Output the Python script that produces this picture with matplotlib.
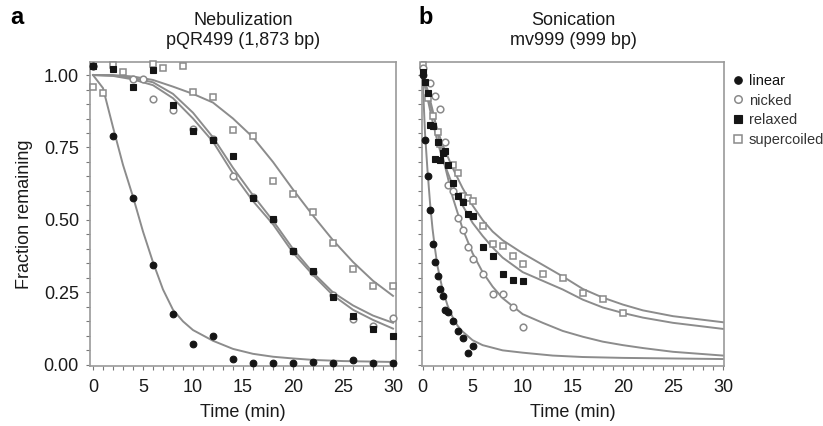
import matplotlib
matplotlib.use("Agg")
import matplotlib.pyplot as plt
from matplotlib.lines import Line2D

plt.rcParams['font.family'] = ['Liberation Sans', 'DejaVu Sans']

# ---------------- Panel a: Nebulization (pQR499) ----------------
a_lin_t = [0, 2, 4, 6, 8, 10, 12, 14, 16, 18, 20, 22, 24, 26, 28, 30]
a_lin_y = [1.03, 0.79, 0.574, 0.344, 0.175, 0.072, 0.10, 0.02, 0.008, 0.008, 0.008, 0.01, 0.008, 0.017, 0.008, 0.006]

a_nick_t = [0, 4, 5, 6, 8, 10, 12, 14, 16, 18, 20, 22, 24, 26, 28, 30]
a_nick_y = [1.03, 0.988, 0.988, 0.916, 0.88, 0.815, 0.78, 0.65, 0.578, 0.50, 0.393, 0.32, 0.24, 0.158, 0.135, 0.16]

a_rel_t = [0, 2, 4, 6, 8, 10, 12, 14, 16, 18, 20, 22, 24, 26, 28, 30]
a_rel_y = [1.03, 1.02, 0.96, 1.017, 0.897, 0.808, 0.777, 0.722, 0.576, 0.504, 0.393, 0.324, 0.235, 0.168, 0.123, 0.10]

a_sc_t = [0, 1, 2, 3, 6, 7, 9, 10, 12, 14, 16, 18, 20, 22, 24, 26, 28, 30]
a_sc_y = [0.958, 0.937, 1.034, 1.01, 1.037, 1.026, 1.03, 0.943, 0.923, 0.81, 0.79, 0.636, 0.59, 0.529, 0.42, 0.332, 0.273, 0.273]

# fitted curves
a_fit_lin_t = [0, 1, 2, 3, 4, 5, 6, 7, 8, 9, 10, 12, 14, 16, 18, 20, 22, 25, 30]
a_fit_lin_y = [1.0, 0.955, 0.82, 0.69, 0.58, 0.46, 0.354, 0.26, 0.19, 0.15, 0.12, 0.083, 0.055, 0.038, 0.028, 0.022, 0.017, 0.013, 0.01]
a_fit_mid_t = [0, 2, 4, 6, 8, 10, 12, 14, 16, 18, 20, 22, 24, 26, 28, 30]
a_fit_up_y = [1.0, 0.998, 0.99, 0.975, 0.935, 0.87, 0.785, 0.68, 0.585, 0.497, 0.40, 0.318, 0.25, 0.205, 0.17, 0.145]
a_fit_lo_y = [1.0, 0.997, 0.985, 0.965, 0.92, 0.85, 0.77, 0.66, 0.565, 0.485, 0.387, 0.31, 0.24, 0.19, 0.155, 0.125]
a_fit_sc_t = [0, 2, 4, 6, 8, 10, 12, 14, 16, 18, 20, 22, 24, 26, 28, 30]
a_fit_sc_y = [1.0, 1.0, 0.995, 0.983, 0.96, 0.935, 0.905, 0.85, 0.785, 0.70, 0.605, 0.515, 0.43, 0.355, 0.29, 0.238]

# ---------------- Panel b: Sonication (mv999) ----------------
b_lin_t = [0, 0.25, 0.5, 0.75, 1, 1.25, 1.5, 1.75, 2, 2.25, 2.5, 3, 3.5, 4, 4.5, 5]
b_lin_y = [1.0, 0.777, 0.65, 0.536, 0.416, 0.356, 0.305, 0.261, 0.236, 0.19, 0.181, 0.15, 0.118, 0.093, 0.04, 0.066]

b_nick_t = [0, 0.75, 1.25, 1.75, 2.25, 2.5, 3, 3.5, 4, 4.5, 5, 6, 7, 8, 9, 10]
b_nick_y = [1.025, 0.971, 0.926, 0.882, 0.769, 0.619, 0.599, 0.505, 0.464, 0.407, 0.364, 0.313, 0.246, 0.244, 0.20, 0.132]

b_rel_t = [0, 0.25, 0.5, 0.75, 1, 1.25, 1.5, 1.75, 2, 2.25, 2.5, 3, 3.5, 4, 4.5, 5, 6, 7, 8, 9, 10]
b_rel_y = [1.01, 0.977, 0.937, 0.826, 0.823, 0.71, 0.769, 0.708, 0.731, 0.737, 0.69, 0.627, 0.581, 0.561, 0.519, 0.515, 0.407, 0.376, 0.315, 0.294, 0.29]

b_sc_t = [0, 0.5, 1, 1.5, 1.75, 3, 3.5, 4, 4.5, 5, 6, 7, 8, 9, 10, 12, 14, 16, 18, 20]
b_sc_y = [1.035, 0.92, 0.857, 0.803, 0.762, 0.69, 0.662, 0.581, 0.576, 0.565, 0.479, 0.416, 0.41, 0.376, 0.347, 0.313, 0.301, 0.247, 0.227, 0.179]

b_fit_lin_t = [0, 0.25, 0.5, 0.75, 1, 1.25, 1.5, 2, 2.5, 3, 3.5, 4, 5, 6, 8, 10, 13, 16, 20, 25, 30]
b_fit_lin_y = [1.0, 0.80, 0.67, 0.56, 0.47, 0.40, 0.34, 0.26, 0.205, 0.165, 0.135, 0.115, 0.085, 0.068, 0.05, 0.042, 0.032, 0.027, 0.024, 0.022, 0.02]
b_fit_nick_t = [0, 0.5, 1, 1.5, 2, 2.5, 3, 4, 5, 6, 7, 8, 10, 12, 14, 16, 18, 20, 22, 25, 30]
b_fit_nick_y = [1.0, 0.95, 0.88, 0.80, 0.72, 0.65, 0.58, 0.47, 0.385, 0.32, 0.27, 0.23, 0.175, 0.145, 0.117, 0.097, 0.08, 0.068, 0.058, 0.045, 0.032]
b_fit_rel_t = [0, 0.5, 1, 1.5, 2, 3, 4, 5, 6, 7, 8, 10, 12, 14, 16, 18, 20, 22, 25, 30]
b_fit_rel_y = [1.0, 0.92, 0.84, 0.77, 0.71, 0.62, 0.55, 0.49, 0.445, 0.405, 0.37, 0.32, 0.29, 0.26, 0.225, 0.198, 0.179, 0.163, 0.145, 0.124]
b_fit_sc_t = [0, 0.5, 1, 1.5, 2, 3, 4, 5, 6, 7, 8, 10, 12, 14, 16, 18, 20, 22, 25, 30]
b_fit_sc_y = [1.0, 0.93, 0.87, 0.81, 0.76, 0.68, 0.61, 0.55, 0.50, 0.46, 0.43, 0.385, 0.345, 0.305, 0.262, 0.232, 0.208, 0.188, 0.168, 0.147]

titles = ["Nebulization\npQR499 (1,873 bp)", "Sonication\nmv999 (999 bp)"]
panel_letters = ["a", "b"]
legend_labels = ["linear", "nicked", "relaxed", "supercoiled"]
x_ticks = [0, 5, 10, 15, 20, 25, 30]
y_ticks = [0.0, 0.25, 0.5, 0.75, 1.0]
y_tick_labels = ["0.00", "0.25", "0.50", "0.75", "1.00"]

LINE = '#8c8c8c'
FRAME = '#9a9a9a'
DARK = '#151515'
OPEN = '#8a8a8a'
ms = 4.8

styles = {
    'linear': dict(marker='o', mfc=DARK, mec=DARK, ms=ms),
    'nicked': dict(marker='o', mfc='white', mec=OPEN, ms=ms, mew=1.1),
    'relaxed': dict(marker='s', mfc=DARK, mec=DARK, ms=ms - 0.3),
    'supercoiled': dict(marker='s', mfc='white', mec=OPEN, ms=ms - 0.3, mew=1.1),
}

fig = plt.figure(figsize=(8.23, 4.26), dpi=100)
axA = fig.add_axes([90 / 823, 60 / 426, 306 / 823, 304 / 426])
axB = fig.add_axes([422 / 823, 60 / 426, 302 / 823, 304 / 426])


def style_axes(ax, xlim):
    ax.set_xlim(*xlim)
    ax.set_ylim(-0.004, 1.045)
    for s in ax.spines.values():
        s.set_color(FRAME)
        s.set_linewidth(1.2)
    ax.set_xticks(x_ticks)
    ax.set_xticks(range(0, 31), minor=True)
    ax.set_yticks(y_ticks)
    ax.set_yticks([i * 0.05 for i in range(21)], minor=True)
    ax.tick_params(which='both', direction='out', length=3, width=0.8, color='#777777',
                   labelsize=13, labelcolor='#1a1a1a', pad=5)
    ax.tick_params(axis='x', which='major', pad=6)
    ax.set_xlabel("Time (min)", fontsize=13, color='#1a1a1a', labelpad=6)


style_axes(axA, (-0.3, 30.3))
style_axes(axB, (-0.05, 30.1))
axA.set_yticklabels(y_tick_labels)
axB.set_yticklabels([])
axA.set_ylabel("Fraction remaining", fontsize=13, color='#1a1a1a', labelpad=8)

# fitted curves
for t, y in [(a_fit_lin_t, a_fit_lin_y), (a_fit_mid_t, a_fit_up_y), (a_fit_mid_t, a_fit_lo_y), (a_fit_sc_t, a_fit_sc_y)]:
    axA.plot(t, y, color=LINE, lw=1.4, zorder=2, clip_on=False)
for t, y in [(b_fit_lin_t, b_fit_lin_y), (b_fit_nick_t, b_fit_nick_y), (b_fit_rel_t, b_fit_rel_y), (b_fit_sc_t, b_fit_sc_y)]:
    axB.plot(t, y, color=LINE, lw=1.4, zorder=2, clip_on=False)

# data points
order_a = [('supercoiled', a_sc_t, a_sc_y), ('nicked', a_nick_t, a_nick_y),
           ('relaxed', a_rel_t, a_rel_y), ('linear', a_lin_t, a_lin_y)]
order_b = [('supercoiled', b_sc_t, b_sc_y), ('nicked', b_nick_t, b_nick_y),
           ('relaxed', b_rel_t, b_rel_y), ('linear', b_lin_t, b_lin_y)]
for ax, order in [(axA, order_a), (axB, order_b)]:
    for name, t, y in order:
        st = styles[name]
        ax.plot(t, y, ls='none', marker=st['marker'], ms=st['ms'], mfc=st['mfc'], mec=st['mec'],
                mew=st.get('mew', 0.8), zorder=3, clip_on=False)

for ax, title in zip([axA, axB], titles):
    ax.set_title(title, fontsize=13, color='#1a1a1a', pad=12, linespacing=1.25)

fig.text(10 / 823, 1 - 18 / 426, panel_letters[0], fontsize=17, fontweight='bold', va='center', ha='left')
fig.text(418 / 823, 1 - 18 / 426, panel_letters[1], fontsize=17, fontweight='bold', va='center', ha='left')

handles = []
for name in legend_labels:
    st = styles[name]
    handles.append(Line2D([], [], ls='none', marker=st['marker'], ms=st['ms'] + 0.6, mfc=st['mfc'],
                          mec=st['mec'], mew=st.get('mew', 0.8)))
leg = fig.legend(handles, legend_labels, loc='upper left', bbox_to_anchor=(734 / 823, 1 - 74 / 426),
                 frameon=False, fontsize=10.5, handlelength=0.6, handletextpad=0.4,
                 labelspacing=0.38, borderaxespad=0, borderpad=0)
for i, txt in enumerate(leg.get_texts()):
    txt.set_color('#111111' if i == 0 else '#333333')

fig.savefig("out.png", dpi=100)
